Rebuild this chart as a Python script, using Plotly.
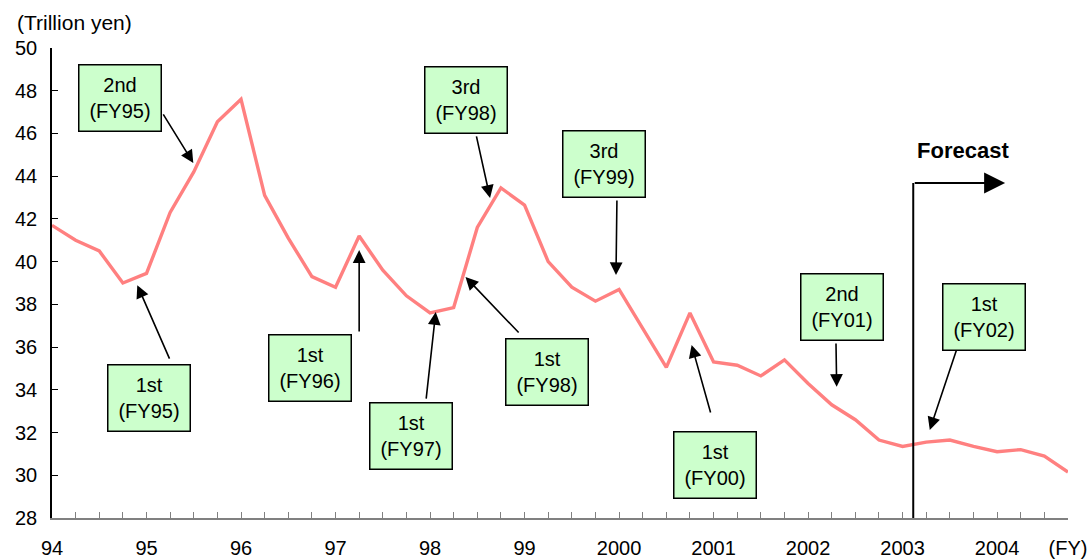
import plotly.graph_objects as go

# Quarterly values, FY1994 Q1 .. FY2004 Q4 (trillion yen)
quarters = list(range(44))
values = [
    41.7, 41.0, 40.5, 39.0,
    39.45, 42.3, 44.2, 46.55,
    47.6, 43.1, 41.1, 39.3,
    38.8, 41.2, 39.6, 38.4,
    37.6, 37.85, 41.6, 43.45,
    42.65, 40.0, 38.8, 38.15,
    38.7, 36.9, 35.05, 37.6,
    35.3, 35.15, 34.65, 35.4,
    34.3, 33.3, 32.6, 31.65,
    31.35, 31.55, 31.65, 31.35,
    31.1, 31.2, 30.9, 30.15,
]
year_labels = ["94", "95", "96", "97", "98", "99",
               "2000", "2001", "2002", "2003", "2004"]
y_ticks = list(range(28, 51, 2))

# callout text, box centre (quarter index, value), arrow tail, arrow head
callouts = [
    ("2nd<br>(FY95)", (2.87, 47.68), (4.67, 46.96), (5.98, 44.62)),
    ("1st<br>(FY95)", (4.12, 33.61), (5.00, 35.39), (3.61, 38.90)),
    ("1st<br>(FY96)", (10.90, 35.04), (13.0, 36.66), (13.0, 40.54)),
    ("1st<br>(FY97)", (15.20, 31.84), (15.83, 33.52), (16.24, 37.64)),
    ("1st<br>(FY98)", (20.95, 34.83), (19.81, 36.61), (17.50, 39.28)),
    ("3rd<br>(FY98)", (17.53, 47.57), (17.95, 45.93), (18.54, 42.98)),
    ("3rd<br>(FY99)", (23.36, 44.55), (23.91, 42.93), (23.87, 39.37)),
    ("1st<br>(FY00)", (28.04, 30.48), (27.89, 32.87), (27.07, 36.10)),
    ("2nd<br>(FY01)", (33.43, 37.90), (33.18, 36.24), (33.21, 34.14)),
    ("1st<br>(FY02)", (39.46, 37.43), (38.38, 36.19), (37.15, 32.12)),
]
forecast_x = 36.45
forecast_top = 43.68
forecast_end = 40.34

FONT = "Arial, Liberation Sans, sans-serif"

W, H = 1092, 559
ML, MR, MT, MB = 52, 24, 48, 41
plot_w = W - ML - MR
plot_h = H - MT - MB

tick_text = []
for q in quarters:
    if q % 4 == 0:
        tick_text.append(year_labels[q // 4])
    elif q == 43:
        tick_text.append("(FY)")
    else:
        tick_text.append("")

fig = go.Figure()
fig.add_trace(go.Scatter(
    x=quarters, y=values, mode="lines",
    line=dict(color="#FF8080", width=3.4),
    hoverinfo="skip", showlegend=False,
))

annotations = []
for text, box, tail, head in callouts:
    annotations.append(dict(
        x=head[0], y=head[1], ax=tail[0], ay=tail[1],
        xref="x", yref="y", axref="x", ayref="y",
        text="", showarrow=True, arrowhead=2, arrowsize=1.6,
        arrowwidth=1.6, arrowcolor="black", standoff=0,
    ))
    annotations.append(dict(
        x=box[0], y=box[1], xref="x", yref="y", text=text,
        showarrow=False, width=79, height=63, align="center", valign="middle",
        bgcolor="#CCFFCC", bordercolor="black", borderwidth=1.5, borderpad=1,
        font=dict(family=FONT, size=20, color="black"),
    ))

# forecast marker
annotations.append(dict(
    x=forecast_end, y=forecast_top, ax=forecast_x, ay=forecast_top,
    xref="x", yref="y", axref="x", ayref="y",
    text="", showarrow=True, arrowhead=2, arrowsize=2.1,
    arrowwidth=2, arrowcolor="black", standoff=0,
))
annotations.append(dict(
    x=38.55, y=45.22, xref="x", yref="y", text="<b>Forecast</b>",
    showarrow=False, font=dict(family=FONT, size=22, color="black"),
))
annotations.append(dict(
    x=-37 / plot_w, y=1 + 26 / plot_h, xref="paper", yref="paper",
    text="(Trillion yen)", showarrow=False, xanchor="left", yanchor="middle",
    font=dict(family=FONT, size=21, color="black"),
))

fig.add_shape(type="line", x0=forecast_x, x1=forecast_x, y0=28, y1=forecast_top,
              xref="x", yref="y", line=dict(color="black", width=2))

fig.update_layout(
    width=W, height=H,
    margin=dict(l=ML, r=MR, t=MT, b=MB),
    paper_bgcolor="white", plot_bgcolor="white",
    font=dict(family=FONT, size=20, color="black"),
    annotations=annotations,
    xaxis=dict(
        range=[0, 43], tickmode="array", tickvals=quarters, ticktext=tick_text,
        ticks="inside", ticklen=6, tickcolor="#808080", showline=True,
        linecolor="#808080", linewidth=2, showgrid=False, zeroline=False,
        ticklabelstandoff=11, tickfont=dict(size=20), automargin=False,
    ),
    yaxis=dict(
        range=[28, 50], tickmode="array", tickvals=y_ticks,
        ticks="inside", ticklen=6, tickcolor="black", showline=True,
        linecolor="black", linewidth=1.5, showgrid=False, zeroline=False,
        ticklabelstandoff=9, tickfont=dict(size=20), automargin=False,
    ),
)

# drop the default page margin so the figure fills the window exactly
fig.write_html(
    "out.html",
    config={"displayModeBar": False},
    post_script="document.body.style.margin='0';document.body.style.overflow='hidden';",
)
